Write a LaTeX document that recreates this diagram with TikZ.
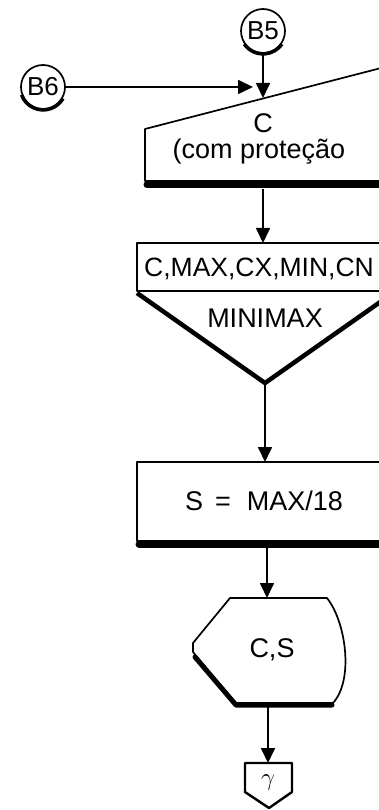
\documentclass[tikz,border=0pt]{standalone}
\usepackage{fontspec}
\setmainfont{Liberation Sans}
\usetikzlibrary{arrows.meta}
\tikzset{
  flow/.style={line width=1.7pt,-{Triangle[length=15pt,width=14pt]}},
  outline/.style={line width=1.7pt,line join=round},
  shadowline/.style={line width=7pt,line cap=round},
  connettore/.style={circle,draw,line width=1.7pt,minimum size=44pt,inner sep=0pt,font=\fontsize{26}{30}\selectfont},
  testo/.style={anchor=base,inner sep=0pt,font=\fontsize{27}{32}\selectfont}
}
\begin{document}
\begin{tikzpicture}[x=1pt,y=-1pt]
        \useasboundingbox (0,0) rectangle (379,810);
        \clip (0,0) rectangle (379,810);

        % connettori
        \node[connettore] (b5) at (263,31) {B5};
        \node[connettore] (b6) at (43,87) {B6};
        \draw[line width=3.5pt] (b5.215) arc[start angle=145,end angle=35,radius=23];
        \draw[line width=3.5pt] (b6.200) arc[start angle=160,end angle=30,radius=23];

        % ingresso manuale
        \draw[outline] (145,129) -- (385,67) -- (385,181) -- (145,181) -- cycle;
        \draw[shadowline] (147,185) -- (385,185);
        \coordinate (in1) at (263,98);
        \coordinate (in1b) at (253,87);
        \coordinate (out1) at (263,189);
        \node[testo] (c) at (263,133) {C};
        \node[testo] (prot) at (259,159) {(com proteção};

        % sottoprogramma
        \draw[outline] (137,243) rectangle (393,291);
        \draw[line width=4.5pt,line join=round] (137,293) -- (265,383) -- (393,293);
        \coordinate (in2) at (263,243);
        \coordinate (apex) at (265,383);
        \node[testo,anchor=base west,font=\fontsize{26.5}{32}\selectfont] (lista) at (144,276) {C,MAX,CX,MIN,CN};
        \node[testo] (minimax) at (265,327) {MINIMAX};

        % calcolo
        \draw[outline] (137,462) rectangle (393,541);
        \draw[shadowline] (139,544) -- (393,544);
        \coordinate (in3) at (265,462);
        \coordinate (out3) at (267,547);
        \node[testo] (calc) at (264,510) {S\hspace{12pt}=\hspace{16pt}MAX/18};

        % visualizzazione
        \draw[outline] (230,598) -- (327,598) .. controls (346,622) and (354,680) .. (333,703)
            -- (235,703) -- (193,652) -- (193,643) -- cycle;
        \draw[line width=5pt,line cap=round,line join=round] (195,657) -- (236,705) -- (332,705);
        \coordinate (in4) at (267,598);
        \coordinate (out4) at (268,707);
        \node[testo] (cs) at (272,657) {C,S};

        % uscita
        \draw[line width=2.4pt,line join=round] (245,763) -- (292,763) -- (292,792) -- (269,808) -- (245,792) -- cycle;
        \coordinate (in5) at (268,763);
        \node (gamma) at (268,783) {\fontsize{28}{32}\selectfont$\gamma$};

        % frecce
        \draw[flow] (b6) -- (in1b);
        \draw[flow] (b5) -- (in1);
        \draw[flow] (out1) -- (in2);
        \draw[flow] (apex) -- (in3);
        \draw[flow] (out3) -- (in4);
        \draw[flow] (out4) -- (in5);
    \end{tikzpicture}
\end{document}
